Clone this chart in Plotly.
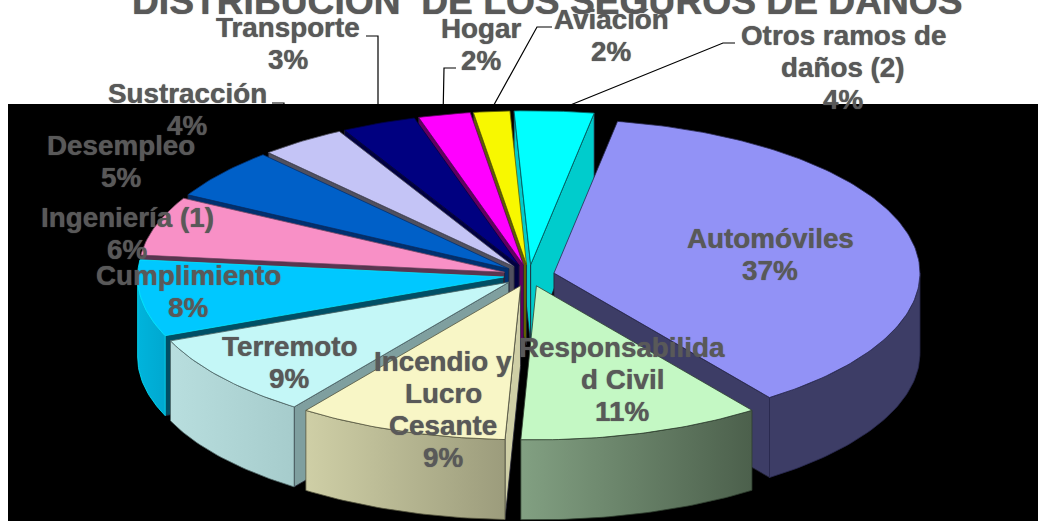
import numpy as np
import plotly.graph_objects as go

categories = ["Automóviles", "Responsabilidad Civil", "Incendio y Lucro Cesante", "Terremoto",
              "Cumplimiento", "Ingeniería (1)", "Desempleo", "Sustracción", "Transporte",
              "Hogar", "Aviación", "Otros ramos de daños (2)"]
values = [37.2, 10.7, 9.3, 8.8, 8.0, 6.2, 5.3, 3.8, 3.3, 2.3, 1.6, 3.5]
label_lines = [["Automóviles"], ["Responsabilida", "d Civil"], ["Incendio y", "Lucro", "Cesante"],
               ["Terremoto"], ["Cumplimiento"], ["Ingeniería (1)"], ["Desempleo"], ["Sustracción"],
               ["Transporte"], ["Hogar"], ["Aviación"], ["Otros ramos de", "daños (2)"]]
percent_labels = ["37%", "11%", "9%", "9%", "8%", "6%", "5%", "4%", "3%", "2%", "2%", "4%"]
title_text = "DISTRIBUCIÓN  DE LOS SEGUROS DE DAÑOS"

# styling and layout
top_colors = ["#9292F6", "#C4F8C4", "#F8F6C6", "#C4F7F7", "#00C8FF", "#F890C6", "#0060C8", "#C4C4F6",
              "#000080", "#FF00FF", "#F8F800", "#00FFFF"]
radial_colors = ["#3D3D66", "#526652", "#CFCFA6", "#7F9F9F", "#004F66", "#5A3550", "#003070", "#50505F",
                 "#000040", "#600060", "#606000", "#00CCCC"]
outer_fill = [("#3D3D66", "#3D3D66"), ("#82A082", "#4C604C"), ("#CFCFA6", "#9C9C7C"), ("#B8DEDE", "#A6CCCC"),
              ("#00B4DC", "#00A8D0"), ("#C07098", "#C07098"), ("#004CA0", "#004CA0"), ("#9C9CC4", "#9C9CC4"),
              ("#000060", "#000060"), ("#C000C0", "#C000C0"), ("#C0C000", "#C0C000"), ("#00CCCC", "#00CCCC")]
edge_colors = ["#2A2A50", "#2F3F2F", "#55553F", "#4F6666", "#00E8FF", "#7A4A66", "#003070", "#50505F",
               "#000040", "#600060", "#606000", "#006060"]
label_pos = [(770, 238), (622, 347), (443, 361), (289, 346), (188, 275), (127, 217), (121, 145),
             (187, 93), (288, 27), (481, 28), (611, 19), (843, 35)]
leaders = [[(366, 36), (378, 36), (378, 112)], [(456, 68), (444, 68), (443, 118)],
           [(552, 27), (537, 27), (490, 112)], [(735, 43), (723, 43), (563, 108)], [(272, 103), (284, 103), (284, 106)]]
CX, CY, A, B, DEPTH, EXPLODE, START = 529, 275.5, 366, 154, 80, 0.07, 10.0
TEXT = "#595959"
FONT = "Liberation Sans, Arial, sans-serif"
LINE_H = 32.2
HEAVY = "0 0 1px #595959"


def rim(cx, cy, t0, t1, n=None):
    n = n or max(2, int(abs(t1 - t0)) + 2)
    t = np.radians(np.linspace(t0, t1, n))
    return cx + A * np.sin(t), cy - B * np.cos(t)


def poly(x, y, fill, edge, grad=None):
    kw = dict(fill="toself", mode="lines", line=dict(color=edge, width=0.8), hoverinfo="skip", showlegend=False)
    if grad and grad[0] != grad[1]:
        kw["fillgradient"] = dict(type="horizontal", colorscale=[[0, grad[0]], [1, grad[1]]])
    else:
        kw["fillcolor"] = fill
    return go.Scatter(x=list(x) + [x[0]], y=list(y) + [y[0]], **kw)


fig = go.Figure()
bounds = START + np.concatenate([[0], np.cumsum(values)]) * 3.6
slices = []
for i, v in enumerate(values):
    t0, t1 = bounds[i], bounds[i + 1]
    mid = np.radians((t0 + t1) / 2)
    slices.append((np.cos(mid), i, t0, t1, CX + EXPLODE * A * np.sin(mid), CY - EXPLODE * B * np.cos(mid)))

for _, i, t0, t1, ax, ay in sorted(slices, key=lambda s: -s[0]):
    # cut faces
    for ang, visible in ((t0, np.sin(np.radians(t0)) < 0), (t1, np.sin(np.radians(t1)) > 0)):
        if visible:
            ex, ey = rim(ax, ay, ang, ang, 1)
            fig.add_trace(poly([ax, ex[0], ex[0], ax], [ay, ey[0], ey[0] + DEPTH, ay + DEPTH],
                               radial_colors[i], "#222233"))
    # outer wall (front half only)
    lo, hi = max(t0, 90), min(t1, 270)
    if hi > lo:
        rx, ry = rim(ax, ay, lo, hi)
        fig.add_trace(poly(np.concatenate([rx, rx[::-1]]), np.concatenate([ry, ry[::-1] + DEPTH]),
                           outer_fill[i][0], edge_colors[i], outer_fill[i]))
    # top face
    rx, ry = rim(ax, ay, t0, t1)
    fig.add_trace(poly(np.concatenate([[ax], rx]), np.concatenate([[ay], ry]), top_colors[i], edge_colors[i]))

shapes = [dict(type="rect", xref="x", yref="y", x0=8, x1=1038, y0=104, y1=521, fillcolor="#000000",
               line=dict(width=0), layer="below")]
for pts in leaders:
    path = "M " + " L ".join(f"{x},{y}" for x, y in pts)
    shapes.append(dict(type="path", xref="x", yref="y", path=path, line=dict(color="#000000", width=1.2), layer="below"))

annotations = []


def add_text(x, y, text, size=27.8):
    annotations.append(dict(x=x, y=y, xref="x", yref="y", text=text, showarrow=False, xanchor="center", yanchor="middle",
                            font=dict(family=FONT, size=size, color=TEXT, shadow=HEAVY), borderpad=0))


for lines, pos, pct in zip(label_lines, label_pos, percent_labels):
    rows = lines + [pct]
    for k, row in enumerate(rows):
        add_text(pos[0], pos[1] + k * LINE_H, f"<b>{row}</b>")
annotations.insert(0, dict(x=547.5, y=1, xref="x", yref="y", text=f"<b>{title_text}</b>", showarrow=False, xanchor="center",
                           yanchor="middle", font=dict(family=FONT, size=37.2, color=TEXT, shadow=HEAVY)))

fig.update_layout(width=1038, height=521, margin=dict(l=0, r=0, t=0, b=0), paper_bgcolor="#FFFFFF",
                  plot_bgcolor="#FFFFFF", showlegend=False, shapes=shapes, annotations=annotations,
                  xaxis=dict(range=[0, 1038], visible=False, fixedrange=True),
                  yaxis=dict(range=[521, 0], visible=False, fixedrange=True))
fig.write_html("out.html", config={"displayModeBar": False},
               post_script="document.body.style.margin='0';document.body.style.overflow='hidden';")
